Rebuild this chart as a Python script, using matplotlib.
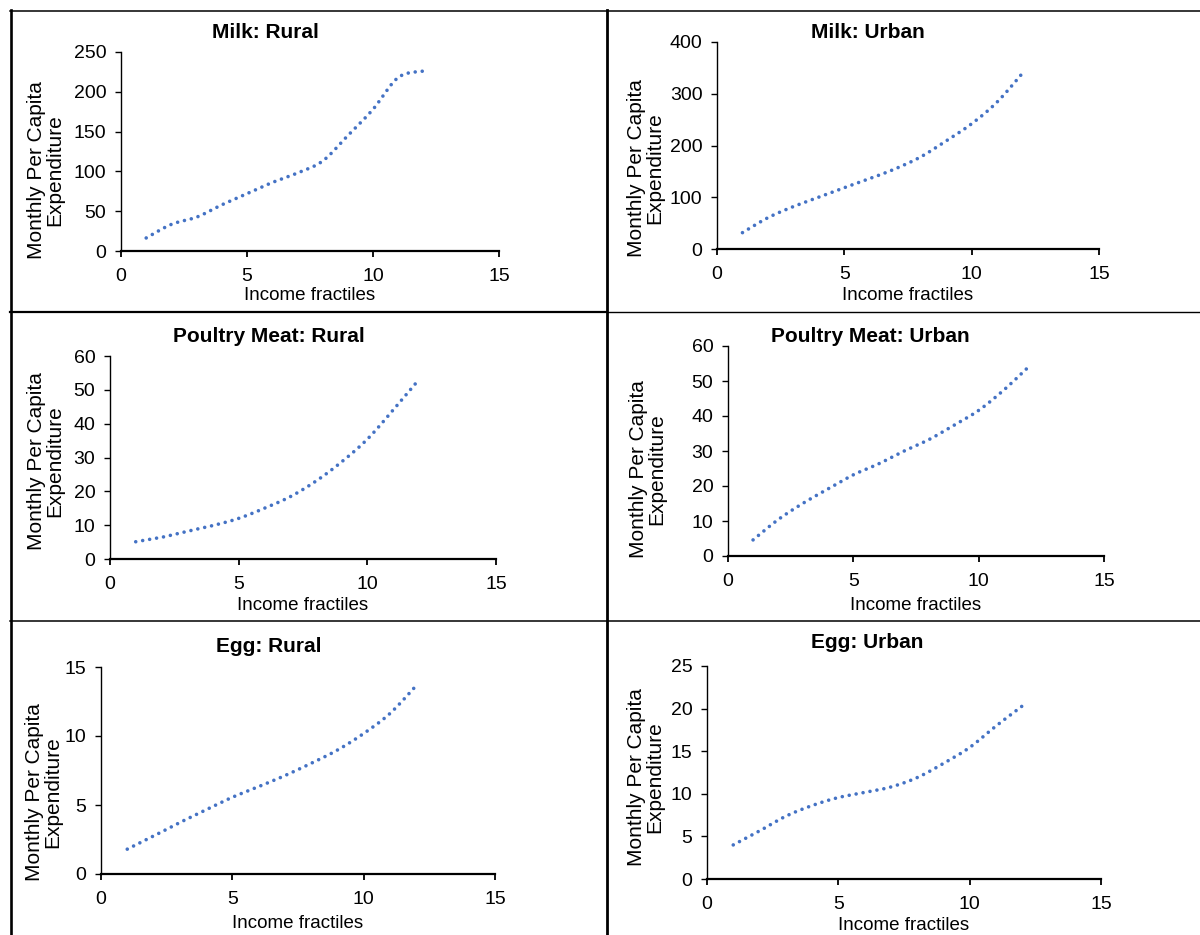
import numpy as np
import matplotlib
matplotlib.use("Agg")
import matplotlib.pyplot as plt
from matplotlib.lines import Line2D

plt.rcParams['font.family'] = ['Liberation Sans', 'DejaVu Sans']

# Income fractile index
fractiles = list(range(1, 13))

# Monthly per capita expenditure by fractile
milk_rural = [16.4, 33.5, 42.5, 58, 72, 86, 98, 113, 145, 178, 218, 226]
milk_urban = [31.6, 60.5, 82, 100, 118.5, 136, 155, 178, 209, 242, 284, 340]
poultry_rural = [5.1, 6.4, 8.2, 9.9, 12.0, 15.0, 18.4, 23.0, 28.7, 35.4, 44.0, 53.0]
poultry_urban = [4.6, 10.4, 15.1, 19.2, 23.2, 26.3, 29.9, 33.2, 37.3, 41.6, 47.4, 54.1]
egg_rural = [1.8, 2.75, 3.73, 4.65, 5.56, 6.33, 7.13, 8.02, 8.98, 10.18, 11.63, 13.65]
egg_urban = [4.0, 5.64, 7.37, 8.62, 9.56, 10.15, 10.8, 11.9, 13.56, 15.44, 17.95, 20.3]

titles = ["Milk: Rural", "Milk: Urban", "Poultry Meat: Rural",
          "Poultry Meat: Urban", "Egg: Rural", "Egg: Urban"]
series = [milk_rural, milk_urban, poultry_rural, poultry_urban, egg_rural, egg_urban]
y_max = [250, 400, 60, 60, 15, 25]
y_step = [50, 100, 10, 10, 5, 5]

x_ticks = [0, 5, 10, 15]
x_label = "Income fractiles"
y_label = "Monthly Per Capita\nExpenditure"

W, H = 1200, 935
fig = plt.figure(figsize=(W / 100, H / 100), dpi=100)

# plot areas in pixels: left, right, top, bottom
boxes = [(121, 499, 52, 251), (717, 1099, 42, 249),
         (110, 496, 356, 559), (728, 1104, 346, 556),
         (101, 495, 667, 874), (707, 1101, 666, 879)]
title_pos = [(265, 32), (868, 32), (269, 336), (870, 336), (269, 646), (867, 643)]
ylab_pos = [(46, 170), (646, 168), (46, 461), (648, 469), (44, 792), (646, 777)]
xlab_y = [295, 295, 605, 605, 923, 925]

BLUE = "#4472C4"


def smooth(xs, ys, n=40):
    """Bezier smoothing through the points (Catmull-Rom style control points)."""
    P = np.column_stack([xs, ys]).astype(float)
    m = len(P)
    out = [P[0:1]]
    t = np.linspace(0, 1, n)[1:, None]
    for i in range(m - 1):
        p_prev = P[i - 1] if i > 0 else P[i]
        p_next2 = P[i + 2] if i + 2 < m else P[i + 1]
        b0, b3 = P[i], P[i + 1]
        b1 = b0 + (b3 - p_prev) / 6.0
        b2 = b3 - (p_next2 - b0) / 6.0
        seg = ((1 - t) ** 3) * b0 + 3 * ((1 - t) ** 2) * t * b1 \
            + 3 * (1 - t) * t ** 2 * b2 + t ** 3 * b3
        out.append(seg)
    pts = np.vstack(out)
    return pts[:, 0], pts[:, 1]


for k in range(6):
    l, r, t, b = boxes[k]
    ax = fig.add_axes([l / W, 1 - b / H, (r - l) / W, (b - t) / H])
    sx, sy = smooth(fractiles, series[k])
    ax.plot(sx, sy, color=BLUE, lw=2.6, linestyle=(0, (0.001, 1.95)),
            dash_capstyle='round', solid_capstyle='round', clip_on=False)
    ax.set_xlim(0, 15)
    ax.set_ylim(0, y_max[k])
    ax.set_xticks(x_ticks)
    ax.set_yticks(np.arange(0, y_max[k] + 0.001, y_step[k]))
    for s in ("top", "right"):
        ax.spines[s].set_visible(False)
    ax.spines["bottom"].set_linewidth(1.6)
    ax.spines["left"].set_linewidth(1.0)
    ax.tick_params(axis='x', direction='out', length=4.5, width=1.3,
                   labelsize=14, pad=8)
    ax.tick_params(axis='y', direction='out', length=4.5, width=1.0,
                   labelsize=14, pad=6)
    ax.set_facecolor('none')
    ax.set_xlabel(x_label, fontsize=13.5)
    ax.xaxis.set_label_coords(0.5, -(xlab_y[k] - b) / (b - t))
    ax.xaxis.label.set_va('center')
    tx, ty = title_pos[k]
    fig.text(tx / W, 1 - ty / H, titles[k], fontsize=15, fontweight='bold',
             ha='center', va='center')
    lx, ly = ylab_pos[k]
    fig.text(lx / W, 1 - ly / H, y_label, fontsize=15, rotation=90,
             ha='center', va='center', multialignment='center', linespacing=0.95)


def hline(y, x0, x1, lw):
    fig.add_artist(Line2D([x0 / W, x1 / W], [1 - y / H, 1 - y / H],
                          transform=fig.transFigure, color='black', lw=lw))


def vline(x, y0, y1, lw):
    fig.add_artist(Line2D([x / W, x / W], [1 - y0 / H, 1 - y1 / H],
                          transform=fig.transFigure, color='black', lw=lw))


# table frame around the panels
hline(11, 10, 1200, 1.1)
vline(11, 10, 935, 1.9)
vline(607, 10, 935, 2.0)
hline(312, 10, 607, 1.6)
hline(312, 607, 1200, 1.0)
hline(621, 10, 1200, 1.1)

fig.savefig("out.png", dpi=100)
